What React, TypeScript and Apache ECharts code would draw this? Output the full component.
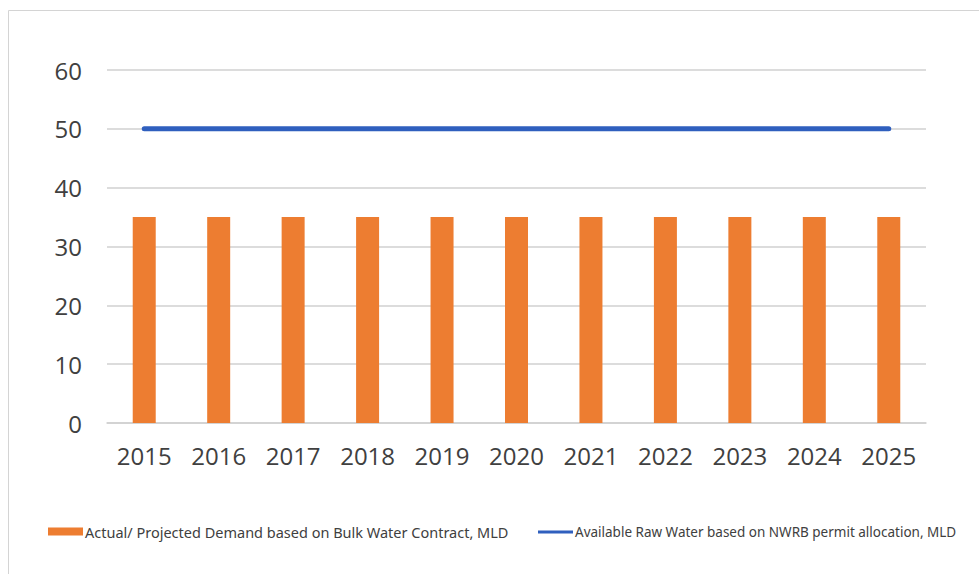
import React, { useEffect, useRef } from "react";
import * as echarts from "echarts";

const years = ["2015", "2016", "2017", "2018", "2019", "2020", "2021", "2022", "2023", "2024", "2025"];
const demand = [35, 35, 35, 35, 35, 35, 35, 35, 35, 35, 35];
const available = [50, 50, 50, 50, 50, 50, 50, 50, 50, 50, 50];
const demandName = "Actual/ Projected Demand based on Bulk Water Contract, MLD";
const availableName = "Available Raw Water based on NWRB permit allocation, MLD";

export default function App() {
  const ref = useRef<HTMLDivElement>(null);
  useEffect(() => {
    if (!ref.current) return;
    const chart = echarts.init(ref.current, null, { renderer: "svg" });
    const legendText = { color: "#404040", fontFamily: "Noto Sans", padding: [0, 0, 0, -3] };
    chart.setOption({
      animation: false,
      backgroundColor: "#ffffff",
      graphic: [
        {
          type: "rect",
          shape: { x: 8.5, y: 10.5, width: 1000, height: 600 },
          style: { fill: "none", stroke: "#d4d4d4", lineWidth: 1 },
          silent: true,
        },
      ],
      grid: { left: 107, right: 53, top: 70, bottom: 151, containLabel: false },
      legend: [
        {
          left: 43,
          top: 519,
          itemWidth: 35,
          itemHeight: 8,
          itemGap: 0,
          textStyle: { ...legendText, fontSize: 14.5 },
          data: [{ name: demandName, icon: "rect" }],
        },
        {
          left: 533,
          top: 520,
          itemWidth: 35,
          itemHeight: 3,
          textStyle: { ...legendText, fontSize: 13.5 },
          data: [{ name: availableName, icon: "rect" }],
        },
      ],
      xAxis: {
        type: "category",
        data: years,
        boundaryGap: true,
        axisLine: { show: true, lineStyle: { color: "#d0d0d0", width: 1.5 } },
        axisTick: { show: false },
        axisLabel: { color: "#404040", fontSize: 24, fontFamily: "Open Sans", margin: 20 },
      },
      yAxis: {
        type: "value",
        min: 0,
        max: 60,
        interval: 10,
        axisLine: { show: false },
        axisTick: { show: false },
        splitLine: { lineStyle: { color: "#d0d0d0", width: 1.5 } },
        axisLabel: { color: "#404040", fontSize: 24, fontFamily: "Open Sans", margin: 25 },
      },
      series: [
        {
          name: demandName,
          type: "bar",
          data: demand,
          barWidth: 23,
          itemStyle: { color: "#ED7D31" },
        },
        {
          name: availableName,
          type: "line",
          data: available,
          showSymbol: false,
          symbol: "none",
          itemStyle: { color: "#2F5FBE" },
          lineStyle: { color: "#2F5FBE", width: 5, cap: "round" },
        },
      ],
    });
    return () => chart.dispose();
  }, []);
  return (
    <div
      ref={ref}
      style={{ position: "absolute", left: 0, top: 0, width: 979, height: 574 }}
    />
  );
}
